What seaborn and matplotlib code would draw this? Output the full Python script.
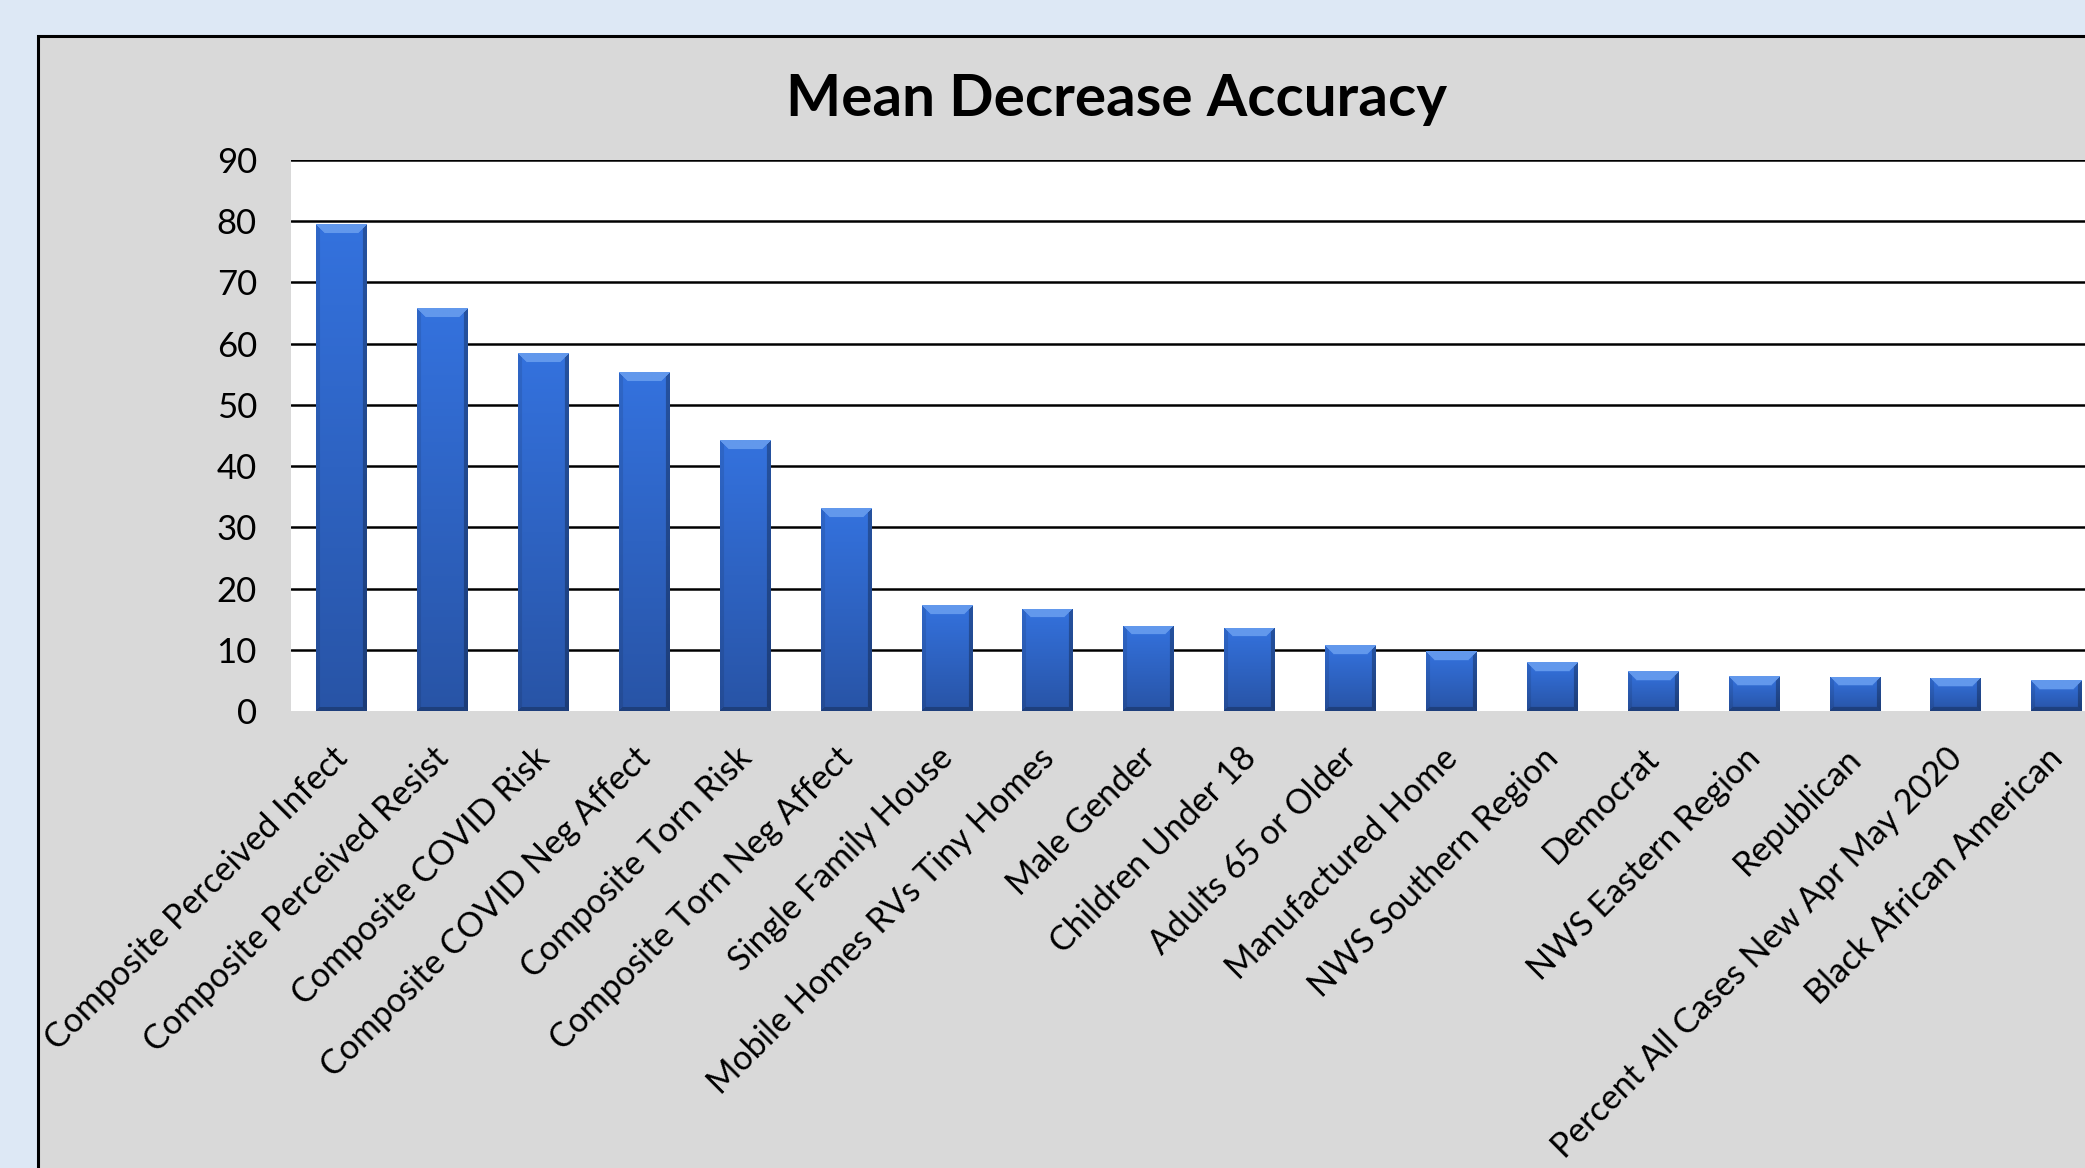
import numpy as np
import pandas as pd
import seaborn as sns
import matplotlib.pyplot as plt
import matplotlib.transforms as mtransforms
from matplotlib.patches import Rectangle

# data
features = [
    "Composite Perceived Infect", "Composite Perceived Resist", "Composite COVID Risk",
    "Composite COVID Neg Affect", "Composite Torn Risk", "Composite Torn Neg Affect",
    "Single Family House", "Mobile Homes RVs Tiny Homes", "Male Gender",
    "Children Under 18", "Adults 65 or Older", "Manufactured Home",
    "NWS Southern Region", "Democrat", "NWS Eastern Region", "Republican",
    "Percent All Cases New Apr May 2020", "Black African American",
]
mda = [79.5, 65.8, 58.4, 55.3, 44.2, 33.1, 17.3, 16.7, 13.9, 13.6,
       10.7, 9.8, 8.0, 6.5, 5.7, 5.6, 5.4, 5.0]
yticks = list(range(0, 100, 10))

df = pd.DataFrame({"feature": features, "mda": mda})

sns.set_style("white")
plt.rcParams['font.family'] = ['Lato', 'DejaVu Sans']
plt.rcParams['text.color'] = 'black'

W, H = 2085, 1168
fig = plt.figure(figsize=(W / 100, H / 100), dpi=100)
fig.patch.set_facecolor('#dde8f5')

# grey chart frame, running off the right and bottom edges
frame = Rectangle((38 / W, -0.1), 1.2, 1 - 36 / H + 0.1, transform=fig.transFigure,
                  facecolor='#d9d9d9', edgecolor='black', linewidth=2.2, zorder=-10)
fig.add_artist(frame)

left, right, top, bottom = 291, 2107, 160, 711
ax = fig.add_axes([left / W, 1 - bottom / H, (right - left) / W, (bottom - top) / H])
ax.set_facecolor('white')

sns.barplot(data=df, x="feature", y="mda", color='#2f66cc', width=0.5, ax=ax, zorder=3)

ax.set_ylim(0, 90)
ax.set_xlim(-0.5, len(features) - 0.5)
ax.set_yticks(yticks)
for v in yticks[1:]:
    ax.axhline(v, color='black', lw=1.8, zorder=1)
for s in ax.spines.values():
    s.set_visible(False)

# bevelled gradient fill on each bar
px_per_unit = (bottom - top) / 90
for p in list(ax.patches):
    x0, w, h = p.get_x(), p.get_width(), p.get_height()
    nr, nc = max(int(h * px_per_unit), 4), 50
    r = np.arange(nr)[:, None] * np.ones((1, nc))
    c = np.ones((nr, 1)) * np.arange(nc)[None, :]
    t = r / max(nr - 1, 1)
    top_col = np.array([52, 114, 222]) / 255
    bot_col = np.array([40, 84, 166]) / 255
    img = top_col[None, None, :] * (1 - t[..., None]) + bot_col[None, None, :] * t[..., None]
    bev = 9
    cr = nc - 1 - c
    rb = nr - 1 - r
    top_b = (r < bev) & (r <= c) & (r <= cr)
    left_b = (c < 4) & (c < r) & (c < rb)
    right_b = (cr < 4) & (cr < r) & (cr < rb)
    bot_b = (rb < 4) & (rb <= c) & (rb <= cr)
    img[top_b] = np.array([98, 152, 236]) / 255
    img[left_b] = img[left_b] * 0.9
    img[right_b] = img[right_b] * 0.72
    img[bot_b] = img[bot_b] * 0.75
    im = ax.imshow(img, extent=[x0, x0 + w, 0, h], aspect='auto', zorder=4,
                   interpolation='bilinear', origin='upper')
    im.set_clip_path(p)
    p.set_facecolor('none')
    p.set_edgecolor('none')

ax.set_ylim(0, 90)
ax.set_xlim(-0.5, len(features) - 0.5)

ax.set_xlabel("")
ax.set_ylabel("")
ax.tick_params(axis='y', labelsize=25, pad=24.5, length=0, colors='black')
ax.tick_params(axis='x', labelsize=24.5, pad=22, length=0, colors='black')
shift = mtransforms.ScaledTranslation(-10 / 100, 0, fig.dpi_scale_trans)
for lab in ax.get_xticklabels():
    lab.set_rotation(45)
    lab.set_ha('right')
    lab.set_va('top')
    lab.set_rotation_mode('anchor')
    lab.set_transform(lab.get_transform() + shift)

fig.text(1117 / W, 1 - 100 / H, "Mean Decrease Accuracy", ha='center', va='center',
         fontsize=42, fontweight='bold', color='black')

fig.savefig("out.png", dpi=100, facecolor=fig.get_facecolor())
